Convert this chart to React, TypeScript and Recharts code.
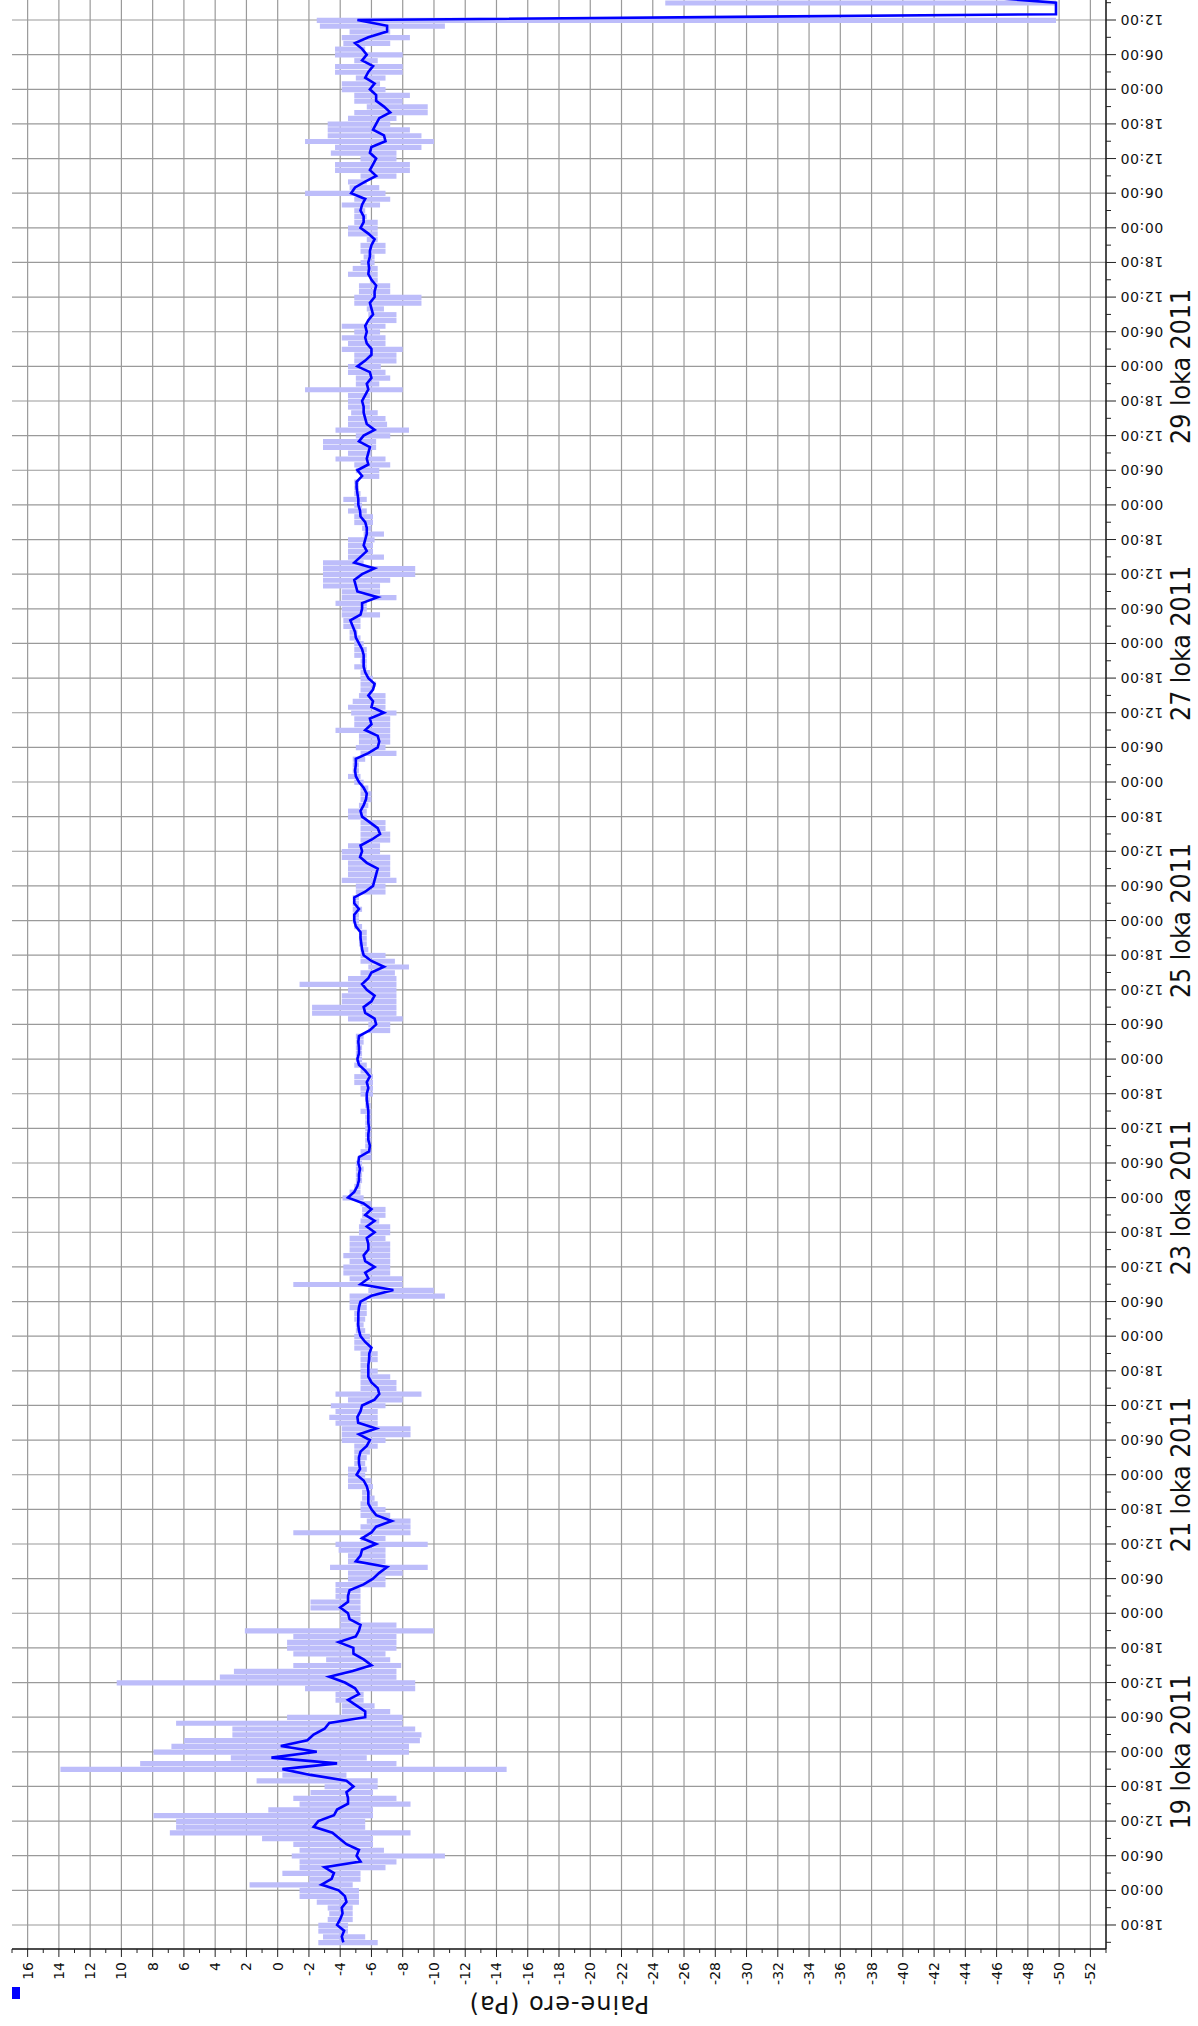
import React from "react";
import {
  ComposedChart,
  Bar,
  Line,
  XAxis,
  YAxis,
  CartesianGrid,
  Label,
} from "recharts";

// hourly samples, hour 0 = 17 loka 2011 00:00
const START_HOUR = 15;

const meanValues = [
  // 15-65
  -4.2, -4.1, -4.25, -3.8, -4.0, -4.15, -4.1, -4.4, -4.3, -3.9,
  -2.8, -3.45, -3.6, -3.0, -5.3, -5.05, -5.2, -4.4, -3.95, -3.5,
  -2.3, -2.6, -3.6, -3.8, -4.5, -4.5, -4.4, -4.85, -4.4, -2.1,
  -0.3, -3.8, 0.4, -2.5, -0.2, -1.9, -2.3, -3.0, -3.3, -5.6,
  -5.6, -5.05, -4.5, -5.2, -4.95, -4.3, -3.3, -4.8, -6.0, -5.5,
  -4.85,
  // 66-122
  -4.84, -3.9, -5.0, -5.2, -5.3, -4.6, -4.5, -4.0, -4.5, -4.5,
  -4.6, -5.5, -6.1, -6.5, -7.0, -5.0, -5.3, -5.4, -6.3, -5.4,
  -6.0, -6.3, -7.3, -6.3, -6.0, -5.8, -5.8, -5.8, -5.7, -5.5,
  -5.05, -5.27, -5.2, -5.2, -5.3, -5.7, -5.9, -5.2, -6.3, -5.15,
  -5.1, -5.3, -5.4, -6.2, -6.5, -6.4, -6.0, -5.8, -5.8, -5.8,
  -5.85, -5.86, -6.0, -5.6, -5.3, -5.2, -5.15,
  // 123-179
  -5.16, -5.16, -5.2, -5.3, -6.0, -7.4, -5.3, -5.8, -5.6, -6.2,
  -5.6, -5.5, -5.8, -5.8, -5.7, -6.2, -5.7, -6.2, -5.6, -6.0,
  -5.5, -4.5, -4.9, -5.1, -5.2, -5.2, -5.27, -5.16, -5.2, -5.85,
  -5.9, -5.8, -5.8, -5.85, -5.8, -5.8, -5.8, -5.75, -5.7, -5.7,
  -5.8, -5.7, -5.9, -5.6, -5.2, -5.1, -5.2, -5.2, -5.16, -5.2,
  -5.9, -6.3, -6.2, -5.6, -5.5, -6.0, -6.2,
  // 180-237
  -5.7, -5.4, -5.8, -6.0, -6.8, -6.0, -5.5, -5.4, -5.35, -5.3,
  -5.3, -5.0, -4.9, -4.9, -5.2, -4.9, -4.9, -5.6, -6.1, -6.2,
  -6.3, -6.4, -5.7, -5.27, -5.4, -5.3, -6.0, -6.55, -6.4, -5.9,
  -5.4, -5.3, -5.5, -5.65, -5.7, -5.5, -5.2, -5.0, -4.95, -5.0,
  -5.0, -5.8, -6.4, -6.5, -6.4, -5.6, -6.0, -5.9, -6.8, -6.0,
  -6.1, -5.8, -6.1, -6.2, -5.8, -5.6, -5.5, -5.5,
  // 238-294
  -5.5, -5.4, -5.2, -5.0, -4.95, -4.8, -4.65, -5.3, -5.4, -5.4,
  -6.4, -5.1, -5.0, -4.9, -5.4, -6.2, -4.9, -5.3, -5.7, -5.5,
  -5.6, -5.7, -5.7, -5.6, -5.3, -5.27, -5.16, -5.16, -5.1, -5.05,
  -5.05, -5.4, -5.1, -5.8, -5.7, -5.8, -5.9, -5.2, -5.5, -6.2,
  -5.7, -5.6, -5.5, -5.5, -5.4, -5.6, -5.8, -5.7, -6.0, -5.9,
  -5.1, -5.6, -6.0, -6.0, -5.7, -5.6, -5.7,
  // 295-352
  -5.6, -5.8, -6.1, -6.0, -5.9, -6.2, -6.2, -6.3, -6.0, -5.8,
  -5.85, -5.8, -5.9, -5.9, -6.0, -6.2, -5.8, -5.3, -5.5, -5.5,
  -5.3, -5.4, -5.6, -4.7, -4.95, -5.6, -6.3, -5.9, -6.1, -6.3,
  -5.9, -6.0, -6.9, -6.8, -6.1, -6.3, -6.5, -7.2, -6.8, -6.3,
  -6.3, -5.9, -6.2, -5.6, -5.8, -6.1, -5.4, -5.7, -5.4, -4.95,
  -5.8, -7.0, -7.0, -5.1, -49.8, -49.8, -49.8, -45.0,
];

const maxValues = [
  // 15-65
  -2.6, -2.9, -2.6, -2.6, -3.2, -3.3, -3.2, -2.5, -1.4, -1.4,
  1.8, -2.0, -0.3, -1.4, -1.4, -0.9, -1.4, -1.0, 1.0, 6.9,
  6.5, 6.5, 7.95, 0.6, -1.4, -1.0, -2.1, -3.0, 1.35, -0.3,
  13.9, 8.8, 3.0, 7.95, 6.8, 6.0, 2.9, 2.9, 6.5, -0.6,
  -4.1, -4.1, -3.7, -3.7, -1.75, 10.3, 3.7, 2.8, -1.0, -3.1,
  -1.0,
  // 66-122
  -0.6, -0.6, -1.0, 2.1, -4.0, -4.0, -4.0, -2.1, -2.1, -3.7,
  -3.7, -3.7, -4.5, -4.5, -3.35, -4.5, -4.5, -3.9, -3.7, -5.3,
  -1.0, -5.3, -5.7, -5.3, -5.3, -5.3, -5.4, -5.4, -4.5, -4.5,
  -4.5, -4.5, -4.9, -4.9, -4.9, -4.9, -4.1, -4.1, -4.1, -3.7,
  -3.3, -3.7, -3.4, -4.5, -3.7, -5.3, -5.3, -5.3, -5.3, -5.3,
  -5.3, -5.3, -4.9, -4.9, -4.9, -5.0, -5.0,
  // 123-179
  -4.9, -4.9, -4.6, -4.6, -4.6, -5.8, -1.0, -4.6, -4.2, -4.2,
  -4.6, -4.2, -4.6, -4.6, -4.6, -5.2, -5.2, -5.3, -5.4, -5.4,
  -5.3, -4.15, -4.6, -4.9, -5.0, -5.0, -5.0, -5.0, -5.16, -5.3,
  -5.6, -5.6, -5.6, -5.6, -5.6, -5.6, -5.3, -5.6, -5.6, -5.3,
  -5.3, -4.9, -4.9, -5.3, -4.9, -5.0, -5.0, -5.0, -5.0, -5.0,
  -5.8, -5.8, -4.5, -2.2, -2.2, -4.1, -4.1,
  // 180-237
  -4.5, -1.4, -4.5, -5.3, -5.8, -5.3, -5.3, -5.3, -5.2, -5.2,
  -5.2, -4.9, -4.8, -4.8, -4.8, -4.8, -4.8, -5.0, -5.0, -4.1,
  -4.5, -4.5, -4.5, -4.1, -4.1, -4.5, -5.3, -5.3, -5.3, -5.3,
  -4.5, -4.5, -5.2, -5.3, -5.3, -5.3, -4.9, -4.5, -4.8, -4.8,
  -4.8, -5.3, -5.0, -5.2, -5.2, -3.7, -4.9, -4.9, -4.7, -4.5,
  -4.8, -5.2, -5.3, -5.3, -5.3, -5.3, -4.9, -5.3,
  // 238-294
  -4.9, -4.9, -4.9, -4.6, -4.6, -4.2, -4.2, -4.1, -4.1, -3.7,
  -4.1, -4.1, -2.9, -2.9, -2.9, -2.9, -2.9, -4.5, -4.5, -4.5,
  -4.5, -5.5, -5.4, -4.9, -4.9, -4.5, -4.9, -4.2, -4.9, -4.9,
  -4.9, -5.3, -5.0, -4.9, -3.7, -4.5, -2.9, -2.9, -5.0, -3.7,
  -4.5, -4.5, -4.7, -4.5, -4.5, -4.5, -1.75, -5.0, -5.0, -4.5,
  -4.5, -4.9, -4.9, -4.1, -4.5, -4.1, -4.9,
  // 295-352
  -4.1, -5.8, -5.8, -5.7, -4.9, -4.9, -5.2, -5.2, -5.9, -4.5,
  -4.8, -5.3, -5.5, -5.3, -5.3, -5.7, -4.5, -4.5, -4.9, -4.9,
  -4.9, -4.1, -4.9, -1.75, -4.6, -4.5, -5.3, -3.67, -3.67, -5.3,
  -3.4, -3.67, -1.75, -3.2, -3.2, -3.2, -4.5, -4.9, -5.7, -4.9,
  -4.9, -4.1, -4.1, -5.0, -3.67, -3.67, -4.9, -3.67, -3.67, -4.2,
  -4.1, -4.6, -2.7, -2.5, -49.8, -49.8, -24.8, -24.8,
];

const minValues = [
  // 15-65
  -6.4, -5.6, -4.5, -4.5, -4.8, -4.8, -4.8, -5.2, -5.2, -5.2,
  -4.8, -5.3, -5.3, -6.9, -7.6, -10.7, -6.8, -6.1, -6.1, -8.5,
  -5.6, -5.6, -6.1, -6.1, -8.5, -7.6, -6.1, -6.4, -6.4, -4.4,
  -14.65, -7.6, -5.7, -8.4, -8.4, -9.1, -9.2, -8.8, -8.0, -8.0,
  -7.2, -6.2, -5.5, -5.5, -8.8, -8.8, -7.6, -7.6, -7.9, -7.2,
  -6.9,
  // 66-122
  -7.6, -7.6, -7.6, -10.0, -7.6, -5.3, -5.3, -5.3, -5.3, -5.3,
  -5.3, -6.9, -6.9, -8.0, -9.6, -6.9, -6.9, -6.9, -9.6, -6.9,
  -8.5, -8.5, -8.5, -7.2, -6.9, -6.4, -6.2, -6.0, -6.1, -6.0,
  -5.6, -5.7, -5.6, -5.7, -5.9, -6.4, -6.9, -8.5, -8.5, -6.4,
  -6.4, -6.4, -6.9, -8.0, -9.2, -7.6, -7.6, -7.2, -6.4, -5.9,
  -6.4, -6.4, -6.0, -5.9, -5.9, -5.6, -5.5,
  // 123-179
  -5.6, -5.7, -5.7, -5.7, -10.7, -10.0, -8.0, -8.0, -7.2, -7.2,
  -7.2, -7.2, -7.2, -7.2, -6.9, -7.2, -7.2, -6.5, -6.9, -6.9,
  -6.0, -5.5, -5.3, -5.3, -5.4, -5.4, -5.5, -5.4, -6.0, -6.0,
  -6.0, -6.0, -6.0, -6.0, -6.0, -6.0, -6.0, -5.95, -5.9, -6.1,
  -6.1, -6.1, -6.1, -6.0, -5.7, -5.4, -5.4, -5.4, -5.5, -5.5,
  -7.2, -7.2, -8.0, -7.6, -7.6, -7.6, -7.6,
  // 180-237
  -7.6, -7.6, -7.6, -7.5, -8.4, -7.5, -6.9, -5.8, -5.7, -5.7,
  -5.7, -5.4, -5.2, -5.2, -5.4, -5.2, -5.2, -6.9, -6.9, -7.6,
  -7.2, -7.2, -7.2, -7.2, -6.55, -6.55, -7.2, -7.2, -6.9, -6.9,
  -5.7, -5.7, -5.8, -6.0, -6.0, -5.8, -5.5, -5.3, -5.2, -5.2,
  -5.6, -7.6, -6.9, -7.2, -7.2, -7.2, -7.2, -7.2, -7.6, -6.9,
  -6.9, -6.9, -6.1, -6.3, -6.1, -5.9, -5.7, -5.7,
  // 238-294
  -5.7, -5.7, -5.5, -5.3, -5.1, -5.3, -5.3, -6.55, -5.7, -5.7,
  -7.6, -6.55, -6.55, -7.2, -8.8, -8.8, -5.5, -6.8, -6.1, -6.1,
  -6.2, -6.8, -6.0, -6.1, -6.1, -5.7, -5.4, -5.7, -5.3, -5.2,
  -5.2, -6.5, -6.5, -7.2, -6.9, -6.0, -6.3, -6.3, -7.2, -8.4,
  -7.0, -6.9, -6.4, -5.9, -5.9, -5.9, -8.0, -6.5, -7.2, -6.9,
  -6.6, -7.6, -7.6, -8.0, -6.9, -6.9, -6.55,
  // 295-352
  -6.9, -7.6, -7.6, -6.8, -9.2, -9.2, -7.2, -7.2, -6.4, -6.4,
  -6.4, -6.2, -6.2, -6.9, -6.9, -6.4, -6.4, -6.4, -6.4, -5.7,
  -5.6, -6.55, -7.2, -6.9, -6.5, -5.7, -7.6, -8.46, -8.46, -7.6,
  -7.6, -9.2, -10.0, -9.2, -8.46, -7.2, -7.6, -9.6, -9.6, -8.0,
  -8.46, -6.9, -6.55, -6.9, -8.0, -8.0, -6.4, -8.0, -5.6, -7.2,
  -8.46, -7.2, -10.7, -49.8, -49.8, -49.8, -49.8, -49.8,
];

// date labels sit on the midnight that starts the day
const dateTicks = [48, 96, 144, 192, 240, 288];
const dateLabels = [
  "19 loka 2011",
  "21 loka 2011",
  "23 loka 2011",
  "25 loka 2011",
  "27 loka 2011",
  "29 loka 2011",
];

const TIME_DOMAIN: [number, number] = [13.842, 351.465];
const VALUE_DOMAIN: [number, number] = [-53, 17];

const data = meanValues.map((m, i) => ({
  t: START_HOUR + i,
  mean: m,
  range: [minValues[i], maxValues[i]],
}));

const hourTicks: number[] = [];
for (let t = 15; t <= 351; t += 3) hourTicks.push(t);
const gridHours = hourTicks.filter((t) => t % 6 === 0);

const valueTicks: number[] = [];
for (let v = VALUE_DOMAIN[0]; v <= VALUE_DOMAIN[1]; v++) valueTicks.push(v);
const gridValues = valueTicks.filter((v) => v % 2 === 0);

const tickFont = "'DejaVu Sans', Verdana, sans-serif";

function TimeTick(props: any) {
  const { x, y, payload } = props;
  const t = payload.value;
  const major = t % 6 === 0;
  const ly = y + 14;
  return (
    <g>
      <line x1={x} x2={x} y1={y} y2={y + (major ? 10 : 5)} stroke="#222" strokeWidth={1} />
      {major && (
        <text
          x={x}
          y={ly}
          transform={`rotate(-90 ${x} ${ly})`}
          textAnchor="end"
          dominantBaseline="central"
          fontFamily={tickFont}
          fontSize={14}
          letterSpacing={0.6}
          fill="#111"
        >
          {String(t % 24).padStart(2, "0")}:00
        </text>
      )}
    </g>
  );
}

function DateTick(props: any) {
  const { x, y, payload } = props;
  const idx = dateTicks.indexOf(payload.value);
  if (idx < 0) return null;
  return (
    <text
      x={x}
      y={y + 24}
      textAnchor="middle"
      fontFamily="'Liberation Sans Narrow', 'DejaVu Sans Condensed', sans-serif"
      fontSize={26}
      textLength={155}
      lengthAdjust="spacingAndGlyphs"
      fill="#111"
    >
      {dateLabels[idx]}
    </text>
  );
}

function ValueTick(props: any) {
  const { x, y, payload } = props;
  const v = payload.value;
  const major = v % 2 === 0;
  return (
    <g>
      <line x1={x} x2={x - (major ? 8 : 4)} y1={y} y2={y} stroke="#222" strokeWidth={1} />
      {major && (
        <text
          x={x - 13}
          y={y}
          textAnchor="end"
          dominantBaseline="central"
          fontFamily={tickFont}
          fontSize={14}
          fill="#111"
        >
          {v}
        </text>
      )}
    </g>
  );
}

function AxisTitle(props: any) {
  const vb = props.viewBox || {};
  const cx = (vb.x ?? 0) + 22;
  const cy = (vb.y ?? 12) + (vb.height ?? 1094) / 2;
  return (
    <text
      x={cx}
      y={cy}
      transform={`rotate(-90 ${cx} ${cy})`}
      textAnchor="middle"
      dominantBaseline="central"
      fontFamily={tickFont}
      fontSize={24}
      letterSpacing={1}
      fill="#111"
    >
      Paine-ero (Pa)
    </text>
  );
}

export default function App() {
  return (
    <div
      style={{
        position: "absolute",
        left: 0,
        top: 0,
        width: 1198,
        height: 2026,
        overflow: "hidden",
        background: "#fff",
      }}
    >
      {/* chart is drawn lying down and turned a quarter turn */}
      <div
        style={{
          position: "absolute",
          left: 0,
          top: 2026,
          width: 2026,
          height: 1198,
          transformOrigin: "0 0",
          transform: "rotate(-90deg)",
        }}
      >
        <ComposedChart
          width={2026}
          height={1198}
          data={data}
          margin={{ top: 12, right: 0, bottom: 0, left: 0 }}
        >
          <CartesianGrid
            stroke="#9a9a9a"
            strokeWidth={1.2}
            horizontalValues={gridValues}
            verticalValues={gridHours}
          />
          <XAxis
            dataKey="t"
            type="number"
            domain={TIME_DOMAIN}
            allowDataOverflow
            ticks={hourTicks}
            interval={0}
            height={60}
            tickSize={0}
            tickMargin={0}
            tickLine={false}
            axisLine={{ stroke: "#111", strokeWidth: 1.5 }}
            tick={<TimeTick />}
          />
          <XAxis
            xAxisId="date"
            dataKey="t"
            type="number"
            domain={TIME_DOMAIN}
            allowDataOverflow
            ticks={dateTicks}
            interval={0}
            height={32}
            tickSize={0}
            tickMargin={0}
            tickLine={false}
            axisLine={false}
            tick={<DateTick />}
          />
          <YAxis
            type="number"
            domain={VALUE_DOMAIN}
            allowDataOverflow
            ticks={valueTicks}
            interval={0}
            width={77}
            tickSize={0}
            tickMargin={0}
            tickLine={false}
            axisLine={{ stroke: "#111", strokeWidth: 1.5 }}
            tick={<ValueTick />}
          >
            <Label content={<AxisTitle />} />
          </YAxis>
          <Bar
            dataKey="range"
            fill="#bdbdfa"
            barSize={6}
            isAnimationActive={false}
          />
          <Line
            dataKey="mean"
            type="linear"
            stroke="#0000ff"
            strokeWidth={2.6}
            dot={false}
            isAnimationActive={false}
          />
        </ComposedChart>
      </div>
      <div
        style={{
          position: "absolute",
          left: 12,
          top: 1987,
          width: 8,
          height: 12,
          background: "#0000ff",
        }}
      />
    </div>
  );
}
